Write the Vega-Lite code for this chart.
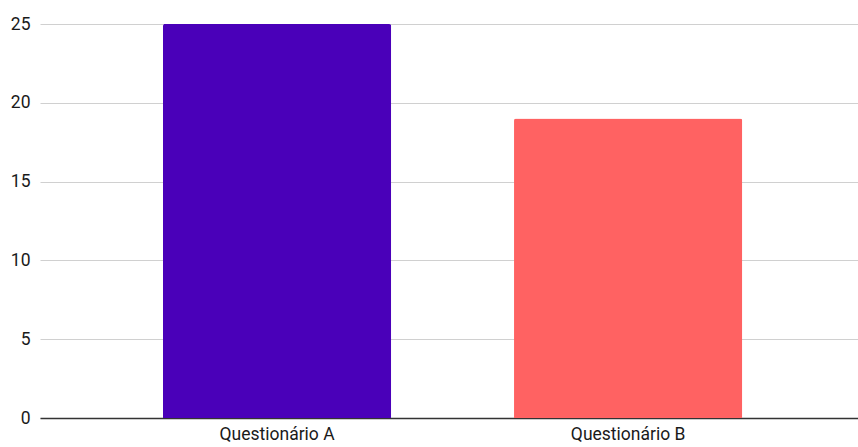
{
  "$schema": "https://vega.github.io/schema/vega-lite/v6.json",
  "autosize": "none",
  "width": 818,
  "height": 394,
  "padding": {"left": 40, "top": 24, "right": 0, "bottom": 29},
  "background": "white",
  "data": {"values": [
    {"q": "Questionário A", "v": 25},
    {"q": "Questionário B", "v": 19}
  ]},
  "config": {"view": {"stroke": null}, "font": "Roboto"},
  "mark": {"type": "bar", "cornerRadiusTopLeft": 2, "cornerRadiusTopRight": 2},
  "encoding": {
    "x": {"field": "q", "type": "nominal", "sort": null,
      "scale": {"paddingInner": 0.35, "paddingOuter": 0.34, "align": 0.515},
      "axis": {"title": null, "labelAngle": 0, "ticks": false, "domainColor": "#333333", "domainWidth": 1.5, "labelFont": "Roboto", "labelFontSize": 17.5, "labelColor": "#1a1a1a", "labelPadding": 7, "grid": false}},
    "y": {"field": "v", "type": "quantitative",
      "scale": {"domain": [0, 25], "nice": false},
      "axis": {"title": null, "values": [0, 5, 10, 15, 20, 25], "domain": false, "ticks": false, "labelFont": "Roboto", "labelFontSize": 17.5, "labelColor": "#1a1a1a", "labelPadding": 10, "gridColor": "#d0d0d0", "gridWidth": 1}},
    "color": {"field": "q", "type": "nominal", "legend": null,
      "scale": {"domain": ["Questionário A", "Questionário B"], "range": ["#4a00b9", "#ff6262"]}}
  }
}
